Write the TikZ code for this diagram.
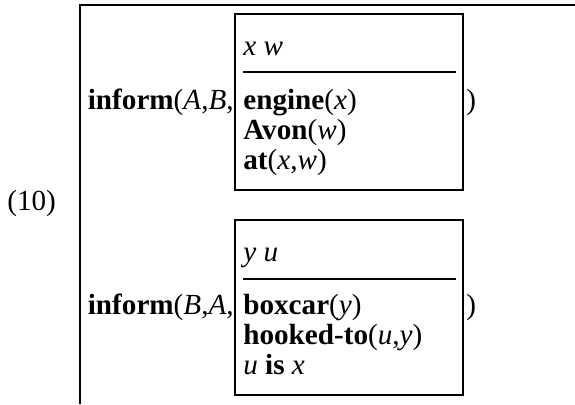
\documentclass[tikz,border=0pt]{standalone}
\usepackage{fontspec}
\setmainfont{Liberation Serif}
\usepackage{tikz}
\newcommand{\pred}[1]{\textbf{#1}}
\newcommand{\dvar}[1]{\textit{#1}}

\begin{document}
\begin{tikzpicture}[x=0.6pt, y=-0.6pt, font=\fontsize{17.5}{20}\selectfont,
    drsline/.style={line width=1.2pt},
    txt/.style={inner sep=0pt, anchor=base west}]
      \useasboundingbox (0,0) rectangle (575,404);
      % outer box, running off the right and the bottom
      \coordinate (otr) at (575,5);
      \coordinate (otl) at (80,5);
      \coordinate (obl) at (80,404);
      \draw[drsline] (otr) -- (otl) -- (obl);
      \node[txt] (num) at (7,210) {(10)};
      % first sub-box
      \coordinate (a1) at (235,14);
      \coordinate (a2) at (463,190);
      \draw[drsline] (a1) rectangle (a2);
      \coordinate (ad1) at (243,72);
      \coordinate (ad2) at (456,72);
      \draw[drsline] (ad1) -- (ad2);
      \node[txt] (ua) at (243,55) {\dvar{x w}};
      \node[txt] (ca1) at (243,109) {\pred{engine}(\dvar{x})};
      \node[txt] (ca2) at (243,139) {\pred{Avon}(\dvar{w})};
      \node[txt] (ca3) at (243,169) {\pred{at}(\dvar{x},\dvar{w})};
      \node[txt, anchor=base east] (ia) at (234,109) {\pred{inform}(\dvar{A},\dvar{B},};
      \node[txt] (ra) at (466,109) {)};
      % second sub-box
      \coordinate (b1) at (235,220);
      \coordinate (b2) at (463,395);
      \draw[drsline] (b1) rectangle (b2);
      \coordinate (bd1) at (243,279);
      \coordinate (bd2) at (456,279);
      \draw[drsline] (bd1) -- (bd2);
      \node[txt] (ub) at (243,261) {\dvar{y u}};
      \node[txt] (cb1) at (243,314) {\pred{boxcar}(\dvar{y})};
      \node[txt] (cb2) at (243,344) {\pred{hooked-to}(\dvar{u},\dvar{y})};
      \node[txt] (cb3) at (243,374) {\dvar{u} \pred{is} \dvar{x}};
      \node[txt, anchor=base east] (ib) at (234,314) {\pred{inform}(\dvar{B},\dvar{A},};
      \node[txt] (rb) at (466,314) {)};
    \end{tikzpicture}
\end{document}
